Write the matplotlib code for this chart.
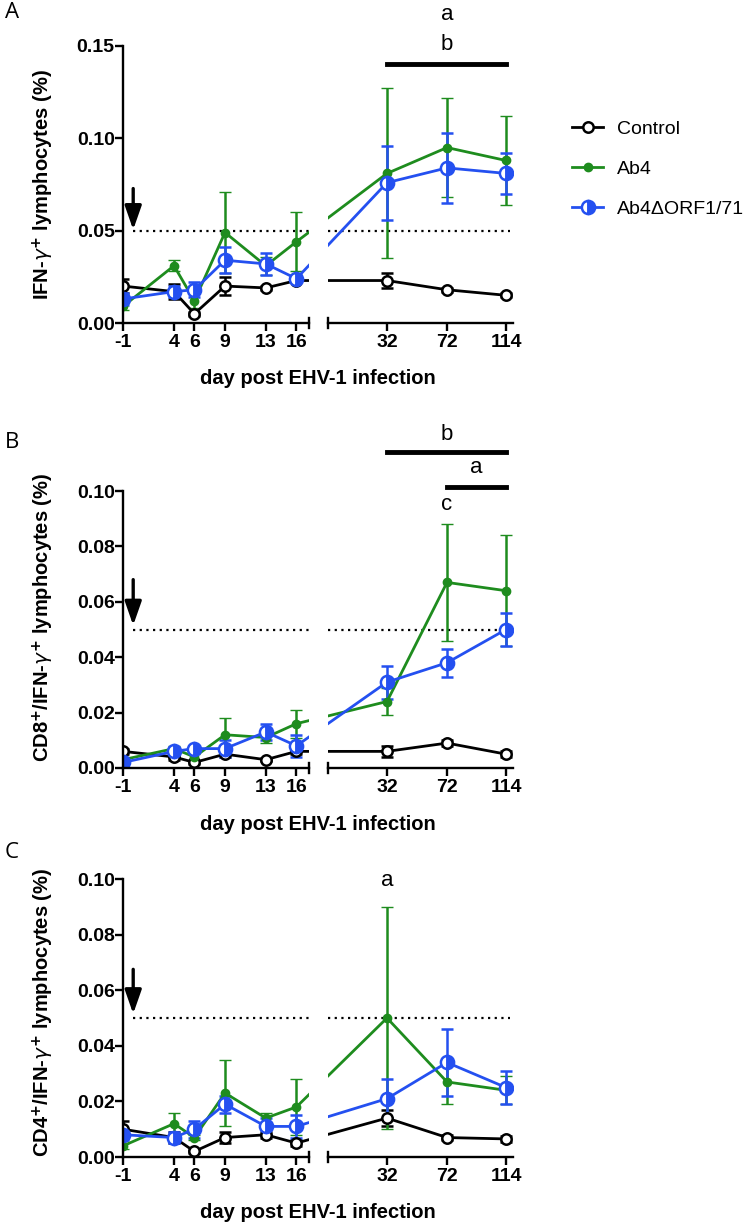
import numpy as np
import matplotlib
matplotlib.use('Agg')
import matplotlib.pyplot as plt

plt.rcParams['font.family'] = ['Liberation Sans', 'DejaVu Sans']
plt.rcParams['mathtext.fontset'] = 'dejavusans'

# sampling days
days = [-1, 4, 6, 9, 13, 16, 32, 72, 114]
left_ticks = [-1, 4, 6, 9, 13, 16]
right_ticks = [32, 72, 114]

# panel A - IFN-g+ lymphocytes
ctrl_a = [0.020, 0.017, 0.005, 0.020, 0.019, 0.023, 0.023, 0.018, 0.015]
ctrl_a_err = [0.004, 0.004, 0.001, 0.005, 0.001, 0.001, 0.004, 0.001, 0.001]
ab4_a = [0.009, 0.031, 0.012, 0.049, 0.031, 0.044, 0.081, 0.095, 0.088]
ab4_a_err = [0.002, 0.003, 0.004, 0.022, 0.005, 0.016, 0.046, 0.027, 0.024]
orf_a = [0.013, 0.017, 0.018, 0.034, 0.032, 0.024, 0.076, 0.084, 0.081]
orf_a_err = [0.003, 0.003, 0.004, 0.007, 0.006, 0.002, 0.020, 0.019, 0.011]

# panel B - CD8+/IFN-g+
ctrl_b = [0.006, 0.004, 0.002, 0.005, 0.003, 0.006, 0.006, 0.009, 0.005]
ctrl_b_err = [0.001, 0.001, 0.0005, 0.001, 0.0005, 0.001, 0.002, 0.001, 0.001]
ab4_b = [0.003, 0.007, 0.004, 0.012, 0.011, 0.016, 0.024, 0.067, 0.064]
ab4_b_err = [0.001, 0.001, 0.001, 0.006, 0.002, 0.005, 0.005, 0.021, 0.020]
orf_b = [0.002, 0.006, 0.007, 0.007, 0.013, 0.008, 0.031, 0.038, 0.050]
orf_b_err = [0.001, 0.001, 0.001, 0.003, 0.003, 0.004, 0.006, 0.005, 0.006]

# panel C - CD4+/IFN-g+
ctrl_c = [0.010, 0.007, 0.002, 0.007, 0.008, 0.005, 0.014, 0.007, 0.0065]
ctrl_c_err = [0.003, 0.002, 0.0005, 0.002, 0.001, 0.001, 0.003, 0.001, 0.001]
ab4_c = [0.004, 0.012, 0.007, 0.023, 0.014, 0.018, 0.050, 0.027, 0.024]
ab4_c_err = [0.001, 0.004, 0.001, 0.012, 0.002, 0.010, 0.040, 0.008, 0.005]
orf_c = [0.008, 0.007, 0.010, 0.019, 0.011, 0.011, 0.021, 0.034, 0.025]
orf_c_err = [0.002, 0.002, 0.003, 0.003, 0.003, 0.004, 0.007, 0.012, 0.006]

labels = ['Control', 'Ab4', 'Ab4\u0394ORF1/71']
ylabels = [r'IFN-$\gamma^{\mathbf{+}}$ lymphocytes (%)',
           r'CD8$^{\mathbf{+}}$/IFN-$\gamma^{\mathbf{+}}$ lymphocytes (%)',
           r'CD4$^{\mathbf{+}}$/IFN-$\gamma^{\mathbf{+}}$ lymphocytes (%)']

GREEN = '#1e8c1e'
BLUE = '#2450f0'

W, H = 752, 1222
fig = plt.figure(figsize=(W / 100, H / 100), dpi=100)

# broken x axis: piecewise linear scale (units = pixels)
day_knots = [-30, -1, 16, 32, 72, 114, 300]
px_knots = [123 - 29 * 10.2, 123, 296.4, 387, 447, 506, 506 + 186 * 1.42]


def fwd(d):
    return np.interp(d, day_knots, px_knots)


def inv(p):
    return np.interp(p, px_knots, day_knots)


def fpos(x0, y_top, x1, y_bot):
    return [x0 / W, 1 - y_bot / H, (x1 - x0) / W, (y_bot - y_top) / H]


def style_ax(ax):
    ax.set_xscale('function', functions=(fwd, inv))
    ax.xaxis.set_minor_locator(matplotlib.ticker.NullLocator())
    for s in ['top', 'right']:
        ax.spines[s].set_visible(False)
    for s in ['left', 'bottom']:
        ax.spines[s].set_linewidth(1.7)
    ax.tick_params(width=1.7, length=5.5, labelsize=14, direction='out')
    ax.tick_params(axis='x', pad=2.5)
    ax.tick_params(axis='y', pad=0.5)


panels = [
    dict(y_top=46, y_bot=323, ymax=0.15, yticks=[0, 0.05, 0.10, 0.15],
         data=[(ctrl_a, ctrl_a_err), (ab4_a, ab4_a_err), (orf_a, orf_a_err)],
         arrow=(0.0728, 0.0505), letter='A', letter_y=13, ylab_y=185),
    dict(y_top=491, y_bot=768, ymax=0.10, yticks=[0, 0.02, 0.04, 0.06, 0.08, 0.10],
         data=[(ctrl_b, ctrl_b_err), (ab4_b, ab4_b_err), (orf_b, orf_b_err)],
         arrow=(0.068, 0.0515), letter='B', letter_y=442, ylab_y=617),
    dict(y_top=879, y_bot=1157, ymax=0.10, yticks=[0, 0.02, 0.04, 0.06, 0.08, 0.10],
         data=[(ctrl_c, ctrl_c_err), (ab4_c, ab4_c_err), (orf_c, orf_c_err)],
         arrow=(0.0675, 0.0515), letter='C', letter_y=853, ylab_y=1012),
]

series_style = [
    dict(color='black', marker='o', ms=7.5, mfc='white', mec='black', mew=1.8),
    dict(color=GREEN, marker='o', ms=6, mfc=GREEN, mec=GREEN, mew=1),
    dict(color=BLUE, marker='o', ms=9.5, mfc='white', mec=BLUE, mew=1.8,
         fillstyle='left', markerfacecoloralt=BLUE),
]

axes_pairs = []
legend_lines = []
for i, p in enumerate(panels):
    axl = fig.add_axes(fpos(123, p['y_top'], 309, p['y_bot']))
    axr = fig.add_axes(fpos(328, p['y_top'], 513, p['y_bot']))
    for ax in (axl, axr):
        for (vals, err), st, lab in zip(p['data'], series_style, labels):
            c = ax.errorbar(days, vals, yerr=err, lw=2.0, capsize=4.5, elinewidth=1.8,
                            capthick=1.8, label=lab, **st)
            if i == 0 and ax is axl:
                legend_lines.append(c[0])
        ax.set_ylim(0, p['ymax'])
        style_ax(ax)
    axl.set_xlim(-1, inv(309))
    axr.set_xlim(inv(328), inv(513))
    axl.set_xticks(left_ticks)
    axl.set_xticklabels([str(d) for d in left_ticks], fontweight='bold')
    axr.set_xticks(right_ticks)
    axr.set_xticklabels([str(d) for d in right_ticks], fontweight='bold')
    axl.set_yticks(p['yticks'])
    axl.set_yticklabels(['%.2f' % v for v in p['yticks']], fontweight='bold')
    axr.spines['left'].set_visible(False)
    axr.tick_params(axis='y', left=False, labelleft=False)

    # break marks
    d = 5 / (p['y_bot'] - p['y_top'])
    axl.plot([1, 1], [-d, d], transform=axl.transAxes, color='black', lw=1.7, clip_on=False)
    axr.plot([0, 0], [-d, d], transform=axr.transAxes, color='black', lw=1.7, clip_on=False)

    # threshold line
    axl.hlines(0.05, 0, inv(309), colors='black', linestyles=(0, (1, 2)), lw=1.6, zorder=1)
    axr.hlines(0.05, inv(328), inv(510), colors='black', linestyles=(0, (1, 2)), lw=1.6, zorder=1)

    # arrow
    axl.annotate('', xy=(0, p['arrow'][1]), xytext=(0, p['arrow'][0]),
                 arrowprops=dict(arrowstyle='-|>,head_width=0.28,head_length=0.8',
                                 mutation_scale=18, color='black', lw=2.4, shrinkA=0, shrinkB=0))

    fig.text(12 / W, 1 - p['letter_y'] / H, p['letter'], fontsize=16, family='Open Sans',
             ha='center', va='center')
    fig.text(43 / W, 1 - p['ylab_y'] / H, ylabels[i], rotation=90,
             fontsize=14.5, fontweight='bold', ha='center', va='center')
    fig.text(318 / W, 1 - (p['y_bot'] + 56) / H, 'day post EHV-1 infection',
             fontsize=14.5, fontweight='bold', ha='center', va='center')
    axes_pairs.append((axl, axr))

# significance annotations
axr_a = axes_pairs[0][1]
axr_a.plot([32, 114], [0.140, 0.140], color='black', lw=3.5, solid_capstyle='projecting', clip_on=False)
axr_a.text(72, 0.151, 'b', fontsize=16, ha='center', va='center')
axr_a.text(72, 0.167, 'a', fontsize=16, ha='center', va='center')

axr_b = axes_pairs[1][1]
axr_b.plot([32, 114], [0.114, 0.114], color='black', lw=3.5, solid_capstyle='projecting', clip_on=False)
axr_b.text(72, 0.1205, 'b', fontsize=16, ha='center', va='center')
axr_b.plot([72, 114], [0.1015, 0.1015], color='black', lw=3.5, solid_capstyle='projecting', clip_on=False)
axr_b.text(93, 0.1085, 'a', fontsize=16, ha='center', va='center')
axr_b.text(72, 0.095, 'c', fontsize=16, ha='center', va='center')

axr_c = axes_pairs[2][1]
axr_c.text(32, 0.0995, 'a', fontsize=16, ha='center', va='center')

# legend
fig.legend(legend_lines, labels, loc='upper left', bbox_to_anchor=(572 / W, 1 - 120 / H),
           frameon=False, fontsize=14, handlelength=1.6, handletextpad=0.7, labelspacing=1.15,
           borderpad=0, borderaxespad=0)

fig.savefig('out.png', dpi=100)
